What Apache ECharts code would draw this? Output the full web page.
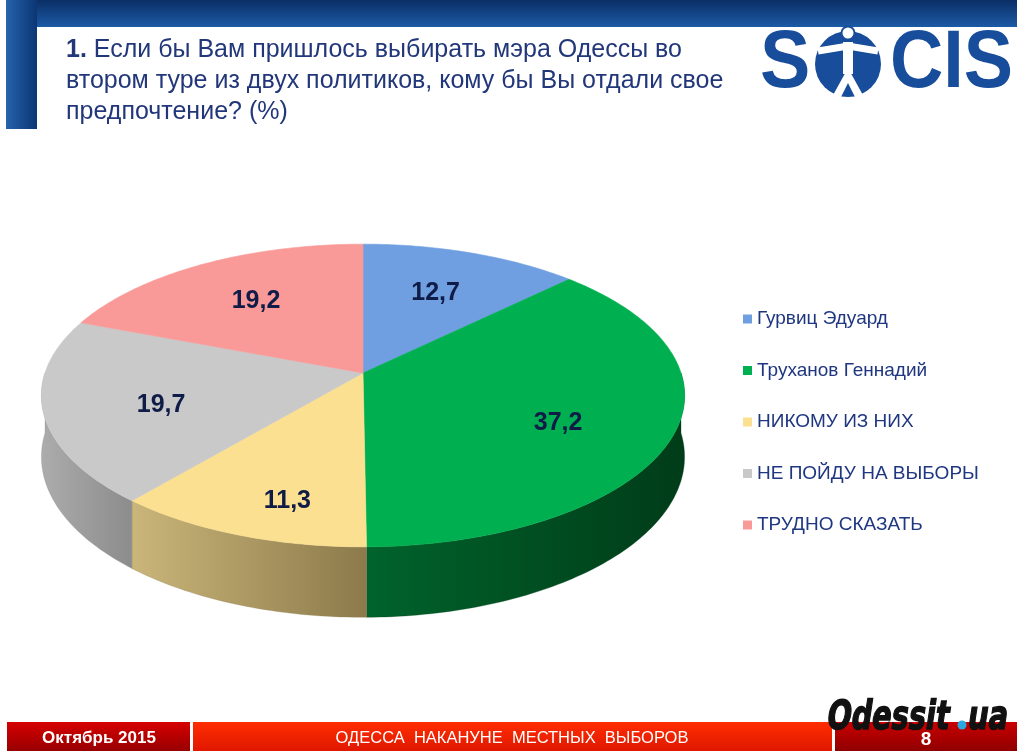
<!DOCTYPE html>
<html lang="ru">
<head>
<meta charset="UTF-8">
<title>SOCIS — второй тур, Одесса</title>
<script src="https://cdn.jsdelivr.net/npm/echarts@6/dist/echarts.min.js"></script>
<style>
  html, body { margin: 0; padding: 0; background: #fff; }
  #chart { width: 1024px; height: 751px; }
</style>
</head>
<body>
<div id="chart"></div>
<script>
// данные опроса
const categories = ['Гурвиц Эдуард', 'Труханов Геннадий', 'НИКОМУ ИЗ НИХ', 'НЕ ПОЙДУ НА ВЫБОРЫ', 'ТРУДНО СКАЗАТЬ'];
const values = [12.7, 37.2, 11.3, 19.7, 19.2];
const topColors = ['#6f9fe0', '#00b050', '#fce091', '#c9c9c9', '#f99a98'];
const sideColors = [['#5a82b8', '#3d5f8c'], ['#00632c', '#003c18'], ['#cab67a', '#8c7a4b'], ['#acacac', '#8c8c8c'], ['#d08080', '#a06060']];

// геометрия "3D" диска
const CX = 363, CY = 373, A = 318, B = 148, K = 0.1486, H = 60;
const total = values.reduce((s, v) => s + v, 0);

function proj(theta, f, drop) {
  const X = f * Math.cos(theta), Z = f * Math.sin(theta);
  const d = 1 - K * Z;
  return [CX + A * X / d, CY + B * Z / d + (drop ? H / d : 0)];
}
function arc(a0, a1, drop) {
  const pts = [];
  const n = Math.max(2, Math.ceil(Math.abs(a1 - a0) / (Math.PI / 180)));
  for (let j = 0; j <= n; j++) pts.push(proj(a0 + (a1 - a0) * j / n, 1, drop));
  return pts;
}

const chart = echarts.init(document.getElementById('chart'));

function renderSlice(params, api) {
  const i = params.dataIndex;
  let before = 0;
  for (let j = 0; j < i; j++) before += values[j];
  const a0 = (before / total * 360 - 90) * Math.PI / 180;
  const a1 = ((before + values[i]) / total * 360 - 90) * Math.PI / 180;
  const children = [];

  // боковая стенка — только передняя половина (0..180°)
  const s0 = Math.max(a0, 0), s1 = Math.min(a1, Math.PI);
  if (s1 > s0) {
    const pts = arc(s0, s1, false).concat(arc(s1, s0, true));
    children.push({
      type: 'polygon', z2: 1,
      shape: { points: pts },
      style: {
        fill: { type: 'linear', x: 0, y: 0, x2: 1, y2: 0,
          colorStops: [{ offset: 0, color: sideColors[i][0] }, { offset: 1, color: sideColors[i][1] }] },
        stroke: sideColors[i][1], lineWidth: 0.3
      }
    });
  }

  // верхняя грань
  children.push({
    type: 'polygon', z2: 5,
    shape: { points: [[CX, CY]].concat(arc(a0, a1, false)) },
    style: { fill: topColors[i], stroke: topColors[i], lineWidth: 0.6 }
  });

  // подпись значения
  const mid = (a0 + a1) / 2;
  const p = proj(mid, 0.64, false);
  const zf = Math.max(0, Math.sin(mid));
  children.push({
    type: 'text', z2: 10,
    x: p[0], y: p[1] + 32 * zf,
    style: {
      text: String(values[i]).replace('.', ','),
      fill: '#0f1c48', font: 'bold 25px "Liberation Sans", Arial, sans-serif',
      align: 'center', verticalAlign: 'middle'
    }
  });
  return { type: 'group', children: children };
}

const FONT = '"Liberation Sans", Arial, sans-serif';

const option = {
  animation: false,
  title: {
    left: 61, top: 30,
    text: '{b|1.} Если бы Вам пришлось выбирать мэра Одессы во\nвтором туре из двух политиков, кому бы Вы отдали свое\nпредпочтение? (%)',
    textStyle: {
      color: '#22377a', fontSize: 25, fontWeight: 'normal', lineHeight: 31, fontFamily: FONT,
      rich: { b: { fontWeight: 'bold', fontSize: 25, color: '#22377a', lineHeight: 31, fontFamily: FONT } }
    }
  },
  legend: {
    orient: 'vertical', left: 738, top: 303,
    icon: 'rect', itemWidth: 9, itemHeight: 9, itemGap: 29.5,
    data: categories,
    textStyle: { color: '#1f3680', fontSize: 19, lineHeight: 22, fontFamily: FONT }
  },
  graphic: [
    // шапка
    { type: 'rect', shape: { x: 6, y: 0, width: 1011, height: 27 },
      style: { fill: { type: 'linear', x: 0, y: 0, x2: 0, y2: 1,
        colorStops: [{ offset: 0, color: '#0b2f66' }, { offset: 1, color: '#1c5aa6' }] } } },
    { type: 'rect', shape: { x: 6, y: 0, width: 31, height: 129 },
      style: { fill: { type: 'linear', x: 0, y: 0, x2: 1, y2: 0,
        colorStops: [{ offset: 0, color: '#2563ad' }, { offset: 1, color: '#0b3674' }] } } },
    // логотип SOCIS
    { type: 'text', x: 760, y: 64, scaleX: 0.92,
      style: { text: 'S', font: 'bold 82px ' + FONT, fill: '#184d9c', verticalAlign: 'middle' } },
    { type: 'circle', shape: { cx: 848, cy: 64, r: 33 }, style: { fill: '#184d9c' } },
    { type: 'polyline', shape: { points: [[818, 51], [848, 46], [878, 51]] },
      style: { stroke: '#fff', lineWidth: 7, fill: null } },
    { type: 'polyline', shape: { points: [[848, 42], [848, 74]] },
      style: { stroke: '#fff', lineWidth: 10, fill: null } },
    { type: 'polygon', shape: { points: [[848, 68], [832, 97], [841, 97], [848, 83], [855, 97], [864, 97]] },
      style: { fill: '#fff' } },
    { type: 'circle', shape: { cx: 848, cy: 33, r: 6.5 }, style: { fill: '#fff', stroke: '#184d9c', lineWidth: 2 } },
    { type: 'text', x: 890, y: 64, scaleX: 0.9,
      style: { text: 'CIS', font: 'bold 82px ' + FONT, fill: '#184d9c', verticalAlign: 'middle' } },
    // подвал
    { type: 'rect', shape: { x: 7, y: 722, width: 183, height: 29 },
      style: { fill: { type: 'linear', x: 0, y: 0, x2: 0, y2: 1,
        colorStops: [{ offset: 0, color: '#d60000' }, { offset: 1, color: '#980000' }] } } },
    { type: 'rect', shape: { x: 193, y: 722, width: 639, height: 29 },
      style: { fill: { type: 'linear', x: 0, y: 0, x2: 0, y2: 1,
        colorStops: [{ offset: 0, color: '#ff2d00' }, { offset: 1, color: '#e01800' }] } } },
    { type: 'rect', shape: { x: 835, y: 722, width: 182, height: 29 },
      style: { fill: { type: 'linear', x: 0, y: 0, x2: 0, y2: 1,
        colorStops: [{ offset: 0, color: '#c80000' }, { offset: 1, color: '#900000' }] } } },
    { type: 'text', x: 99, y: 738,
      style: { text: 'Октябрь 2015', fill: '#fff', font: 'bold 17px ' + FONT, align: 'center', verticalAlign: 'middle' } },
    { type: 'text', x: 512, y: 738,
      style: { text: 'ОДЕССА  НАКАНУНЕ  МЕСТНЫХ  ВЫБОРОВ', fill: '#fff', font: '16.5px ' + FONT, align: 'center', verticalAlign: 'middle' } },
    { type: 'text', x: 926, y: 740,
      style: { text: '8', fill: '#fff', font: 'bold 19px ' + FONT, align: 'center', verticalAlign: 'middle' } },
    // водяной знак
    { type: 'text', x: 827, y: 719, z: 20, scaleX: 0.72, skewX: -0.15,
      style: { text: 'Odessit', fill: '#111', stroke: '#111', lineWidth: 1.5, font: 'bold 40px "DejaVu Sans", sans-serif', verticalAlign: 'middle' } },
    { type: 'circle', z: 20, shape: { cx: 962, cy: 725, r: 4.5 }, style: { fill: '#2aa9e0' } },
    { type: 'text', x: 968, y: 719, z: 20, scaleX: 0.72, skewX: -0.15,
      style: { text: 'ua', fill: '#111', stroke: '#111', lineWidth: 1.5, font: 'bold 40px "DejaVu Sans", sans-serif', verticalAlign: 'middle' } }
  ],
  series: [
    {
      type: 'custom', name: 'Доли', coordinateSystem: 'none',
      data: values.map((v, i) => ({ name: categories[i], value: v })),
      renderItem: renderSlice, silent: true
    },
    {
      // невидимый круг только для легенды
      type: 'pie', radius: [0, 0], center: [-100, -100], silent: true,
      label: { show: false }, labelLine: { show: false },
      data: values.map((v, i) => ({ name: categories[i], value: v, itemStyle: { color: topColors[i] } }))
    }
  ]
};

chart.setOption(option);
window.addEventListener('resize', () => chart.resize());
</script>
</body>
</html>
